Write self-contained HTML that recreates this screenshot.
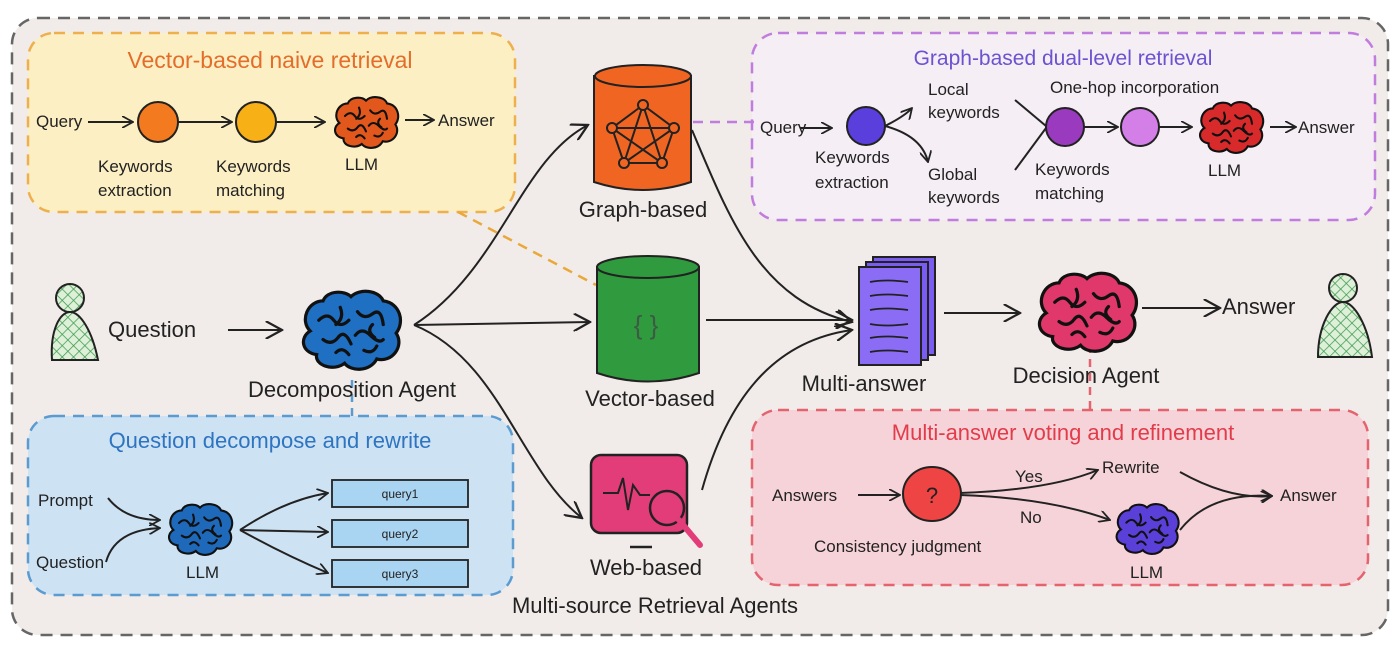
<!DOCTYPE html>
<html><head><meta charset="utf-8"><style>
html,body{margin:0;padding:0;background:#fff}
svg{display:block}
text{font-family:"Liberation Sans",sans-serif;fill:#222}
</style></head><body>
<svg width="1398" height="645" viewBox="0 0 1398 645" xmlns="http://www.w3.org/2000/svg">
<defs>
<marker id="ah" viewBox="0 0 12 12" refX="11" refY="6" markerWidth="12" markerHeight="12" markerUnits="userSpaceOnUse" orient="auto">
<path d="M0,0 L11,6 L0,12" fill="none" stroke="#222" stroke-width="1.8"/></marker>
<marker id="ahb" viewBox="0 0 12 12" refX="11" refY="6" markerWidth="18" markerHeight="18" markerUnits="userSpaceOnUse" orient="auto">
<path d="M0,0 L11,6 L0,12" fill="none" stroke="#222" stroke-width="1.5"/></marker>
<symbol id="brain" viewBox="0 0 100 80">
<path d="M12,40 C2,30 10,12 24,12 C28,2 44,2 50,8 C58,0 76,2 80,12 C96,14 100,32 92,42 C100,54 88,70 74,66 C68,78 50,78 44,70 C34,78 16,72 18,62 C4,60 2,46 12,40Z" stroke="#111" stroke-width="3"/>
<path d="M20,30 q8,-8 14,0 t14,0 M56,22 q6,8 14,2 t10,10 M24,48 q8,6 14,-2 t12,6 M54,44 q6,-8 14,0 t12,4 M36,60 q6,-6 12,2 M62,58 q8,4 12,-4 M40,18 q4,10 -4,16 M70,34 q-6,6 2,12" fill="none" stroke="#111" stroke-width="3" stroke-linecap="round"/>
</symbol>
<pattern id="hatch" width="8" height="8" patternUnits="userSpaceOnUse" patternTransform="rotate(45)">
<rect width="8" height="8" fill="#dff0d8"/><path d="M0,0V8M0,0H8" stroke="#3c9a50" stroke-width="1.5"/></pattern>
</defs>
<rect width="1398" height="645" fill="#fff"/>
<rect x="12" y="18" width="1376" height="617" rx="26" fill="#f1ece9" stroke="#666" stroke-width="2.5" stroke-dasharray="12 8"/>

<!-- yellow box -->
<rect x="28" y="33" width="487" height="179" rx="26" fill="#fcefc3" stroke="#eeb04c" stroke-width="2.5" stroke-dasharray="11 8"/>
<text x="270" y="68" text-anchor="middle" font-size="23" style="fill:#e36d2a">Vector-based naive retrieval</text>
<text x="36" y="127" font-size="17">Query</text>
<path d="M88,122 L133,122" stroke="#222" stroke-width="2" marker-end="url(#ah)"/>
<circle cx="158" cy="122" r="20" fill="#f47a20" stroke="#222" stroke-width="2"/>
<path d="M178,122 L232,122" stroke="#222" stroke-width="2" marker-end="url(#ah)"/>
<circle cx="256" cy="122" r="20" fill="#f7b015" stroke="#222" stroke-width="2"/>
<path d="M276,122 L325,122" stroke="#222" stroke-width="2" marker-end="url(#ah)"/>
<use href="#brain" x="330" y="95" width="72" height="56" fill="#e2571c"/>
<path d="M405,120 L434,120" stroke="#222" stroke-width="2" marker-end="url(#ah)"/>
<text x="438" y="126" font-size="17">Answer</text>
<text x="98" y="172" font-size="17">Keywords</text><text x="98" y="196" font-size="17">extraction</text>
<text x="216" y="172" font-size="17">Keywords</text><text x="216" y="196" font-size="17">matching</text>
<text x="345" y="170" font-size="17">LLM</text>

<!-- purple box -->
<rect x="752" y="33" width="623" height="187" rx="26" fill="#f5eef5" stroke="#c07ddd" stroke-width="2.5" stroke-dasharray="11 8"/>
<text x="1063" y="65" text-anchor="middle" font-size="21" style="fill:#6b52d0">Graph-based dual-level retrieval</text>
<text x="760" y="133" font-size="17">Query</text>
<path d="M800,128 L832,128" stroke="#222" stroke-width="2" marker-end="url(#ah)"/>
<circle cx="866" cy="126" r="19" fill="#5a3fdc" stroke="#222" stroke-width="2"/>
<path d="M885,126 Q905,116 912,108" fill="none" stroke="#222" stroke-width="2" marker-end="url(#ah)"/>
<path d="M885,126 Q922,136 928,162" fill="none" stroke="#222" stroke-width="2" marker-end="url(#ah)"/>
<text x="815" y="163" font-size="17">Keywords</text><text x="815" y="188" font-size="17">extraction</text>
<text x="928" y="95" font-size="17">Local</text><text x="928" y="118" font-size="17">keywords</text>
<text x="928" y="180" font-size="17">Global</text><text x="928" y="203" font-size="17">keywords</text>
<path d="M1015,100 L1046,126" stroke="#222" stroke-width="2"/>
<path d="M1015,170 L1046,128" stroke="#222" stroke-width="2"/>
<circle cx="1065" cy="127" r="19" fill="#9a3bbf" stroke="#222" stroke-width="2"/>
<path d="M1084,127 L1118,127" stroke="#222" stroke-width="2" marker-end="url(#ah)"/>
<circle cx="1140" cy="127" r="19" fill="#d47fe8" stroke="#222" stroke-width="2"/>
<path d="M1159,127 L1192,127" stroke="#222" stroke-width="2" marker-end="url(#ah)"/>
<use href="#brain" x="1194" y="100" width="74" height="56" fill="#d82a2a"/>
<path d="M1270,127 L1296,127" stroke="#222" stroke-width="2" marker-end="url(#ah)"/>
<text x="1298" y="133" font-size="17">Answer</text>
<text x="1050" y="93" font-size="17">One-hop incorporation</text>
<text x="1035" y="175" font-size="17">Keywords</text><text x="1035" y="199" font-size="17">matching</text>
<text x="1208" y="176" font-size="17">LLM</text>

<!-- blue box -->
<rect x="28" y="416" width="485" height="179" rx="26" fill="#cde3f4" stroke="#5b9bd0" stroke-width="2.5" stroke-dasharray="11 8"/>
<text x="270" y="448" text-anchor="middle" font-size="22" style="fill:#2e74c0">Question decompose and rewrite</text>
<text x="38" y="506" font-size="17">Prompt</text>
<text x="36" y="568" font-size="17">Question</text>
<path d="M108,498 Q125,520 160,520" fill="none" stroke="#222" stroke-width="2" marker-end="url(#ah)"/>
<path d="M106,562 Q115,530 160,528" fill="none" stroke="#222" stroke-width="2" marker-end="url(#ah)"/>
<use href="#brain" x="162" y="502" width="76" height="56" fill="#1f69bb"/>
<text x="186" y="578" font-size="17">LLM</text>
<path d="M240,530 Q285,500 328,493" fill="none" stroke="#222" stroke-width="2" marker-end="url(#ah)"/>
<path d="M240,530 L328,532" fill="none" stroke="#222" stroke-width="2" marker-end="url(#ah)"/>
<path d="M240,530 Q285,555 328,573" fill="none" stroke="#222" stroke-width="2" marker-end="url(#ah)"/>
<rect x="332" y="480" width="136" height="27" fill="#a9d4f2" stroke="#222" stroke-width="1.8"/>
<rect x="332" y="520" width="136" height="27" fill="#a9d4f2" stroke="#222" stroke-width="1.8"/>
<rect x="332" y="560" width="136" height="27" fill="#a9d4f2" stroke="#222" stroke-width="1.8"/>
<text x="400" y="498" text-anchor="middle" font-size="12">query1</text>
<text x="400" y="538" text-anchor="middle" font-size="12">query2</text>
<text x="400" y="578" text-anchor="middle" font-size="12">query3</text>

<!-- pink box -->
<rect x="752" y="410" width="616" height="175" rx="26" fill="#f6d3d9" stroke="#e4636f" stroke-width="2.5" stroke-dasharray="11 8"/>
<text x="1063" y="440" text-anchor="middle" font-size="22" style="fill:#e23c4a">Multi-answer voting and refinement</text>
<text x="772" y="501" font-size="17">Answers</text>
<path d="M858,495 L900,495" stroke="#222" stroke-width="2" marker-end="url(#ah)"/>
<ellipse cx="932" cy="494" rx="29" ry="27" fill="#ef4444" stroke="#222" stroke-width="2"/>
<text x="932" y="503" text-anchor="middle" font-size="22">?</text>
<path d="M960,493 Q1050,490 1098,470" fill="none" stroke="#222" stroke-width="2" marker-end="url(#ah)"/>
<path d="M960,495 Q1050,498 1110,520" fill="none" stroke="#222" stroke-width="2" marker-end="url(#ah)"/>
<text x="1015" y="482" font-size="17">Yes</text>
<text x="1020" y="523" font-size="17">No</text>
<text x="1102" y="473" font-size="17">Rewrite</text>
<text x="814" y="552" font-size="17">Consistency judgment</text>
<use href="#brain" x="1112" y="502" width="70" height="55" fill="#5a40d8"/>
<text x="1130" y="578" font-size="17">LLM</text>
<path d="M1180,472 Q1230,500 1272,496" fill="none" stroke="#222" stroke-width="2" marker-end="url(#ah)"/>
<path d="M1180,530 Q1210,492 1272,496" fill="none" stroke="#222" stroke-width="2" marker-end="url(#ah)"/>
<text x="1280" y="501" font-size="17">Answer</text>

<!-- dashed connectors -->
<path d="M458,212 L596,285" stroke="#eaa83a" stroke-width="2.5" stroke-dasharray="10 7"/>
<path d="M693,122 L760,122" stroke="#c07ddd" stroke-width="2.5" stroke-dasharray="10 7"/>
<path d="M352,380 L352,416" stroke="#5b9bd0" stroke-width="2.5" stroke-dasharray="8 6"/>
<path d="M1090,345 L1090,410" stroke="#e4636f" stroke-width="2.5" stroke-dasharray="8 6"/>

<!-- main flow -->
<circle cx="70" cy="298" r="14" fill="url(#hatch)" stroke="#222" stroke-width="2"/>
<path d="M52,360 C50,330 60,312 70,312 C80,312 92,330 98,360 Z" fill="url(#hatch)" stroke="#222" stroke-width="2"/>
<text x="108" y="337" font-size="22">Question</text>
<path d="M228,330 L282,330" stroke="#222" stroke-width="2" marker-end="url(#ahb)"/>
<use href="#brain" x="292" y="288" width="118" height="86" fill="#1f6fc2"/>
<text x="352" y="397" text-anchor="middle" font-size="22">Decomposition Agent</text>
<path d="M414,325 C500,270 520,160 588,125" fill="none" stroke="#222" stroke-width="2" marker-end="url(#ahb)"/>
<path d="M414,325 L590,322" fill="none" stroke="#222" stroke-width="2" marker-end="url(#ahb)"/>
<path d="M414,325 C500,360 520,470 582,518" fill="none" stroke="#222" stroke-width="2" marker-end="url(#ahb)"/>

<!-- graph cylinder -->
<path d="M594,76 L594,182 Q643,198 691,182 L691,76 Z" fill="#f16522" stroke="#222" stroke-width="2"/>
<ellipse cx="643" cy="76" rx="48" ry="11" fill="#f16522" stroke="#222" stroke-width="2"/>
<g stroke="#222" stroke-width="2" fill="none">
<path d="M643,105 L612,128 L624,163 L662,163 L674,128 Z M643,105 L624,163 L674,128 L612,128 L662,163 Z"/>
</g>
<g fill="#f16522" stroke="#222" stroke-width="2"><circle cx="643" cy="105" r="5"/><circle cx="612" cy="128" r="5"/><circle cx="674" cy="128" r="5"/><circle cx="624" cy="163" r="5"/><circle cx="662" cy="163" r="5"/></g>
<text x="643" y="217" text-anchor="middle" font-size="22">Graph-based</text>

<!-- vector cylinder -->
<path d="M597,267 L597,373 Q648,390 699,373 L699,267 Z" fill="#2f9a3e" stroke="#222" stroke-width="2"/>
<ellipse cx="648" cy="267" rx="51" ry="11" fill="#2f9a3e" stroke="#222" stroke-width="2"/>
<text x="646" y="334" text-anchor="middle" font-size="26" style="fill:#3c5a44">{ }</text>
<text x="650" y="406" text-anchor="middle" font-size="22">Vector-based</text>

<!-- web -->
<rect x="591" y="455" width="96" height="78" rx="10" fill="#e23d78" stroke="#222" stroke-width="2.5"/>
<path d="M603,493 L618,493 L623,478 L628,510 L633,485 L640,495 L650,495" fill="none" stroke="#222" stroke-width="2"/>
<path d="M630,547 L652,547" stroke="#222" stroke-width="2.5"/>
<circle cx="667" cy="508" r="17" fill="#e23d78" stroke="#222" stroke-width="2.5"/>
<path d="M679,520 L700,545" stroke="#e23d78" stroke-width="6" stroke-linecap="round"/>
<text x="646" y="575" text-anchor="middle" font-size="22">Web-based</text>

<path d="M692,130 C730,220 760,300 852,322" fill="none" stroke="#222" stroke-width="2" marker-end="url(#ahb)"/>
<path d="M706,320 L852,320" fill="none" stroke="#222" stroke-width="2" marker-end="url(#ahb)"/>
<path d="M702,490 C730,390 780,340 852,330" fill="none" stroke="#222" stroke-width="2" marker-end="url(#ahb)"/>

<!-- multi-answer doc -->
<rect x="873" y="257" width="62" height="98" fill="#7b5cf0" stroke="#222" stroke-width="2"/>
<rect x="866" y="262" width="62" height="98" fill="#7b5cf0" stroke="#222" stroke-width="2"/>
<rect x="859" y="267" width="62" height="98" fill="#8b6cf5" stroke="#222" stroke-width="2"/>
<path d="M870,282 q15,-3 38,0 M870,296 q15,-3 38,0 M870,310 q15,-3 38,0 M870,324 q15,3 38,0 M870,338 q15,-3 38,0 M870,352 q15,-3 38,0" fill="none" stroke="#222" stroke-width="1.8"/>
<text x="864" y="391" text-anchor="middle" font-size="22">Multi-answer</text>
<path d="M944,313 L1020,313" stroke="#222" stroke-width="2" marker-end="url(#ahb)"/>
<use href="#brain" x="1032" y="270" width="110" height="86" fill="#e0386a"/>
<text x="1086" y="383" text-anchor="middle" font-size="22">Decision Agent</text>
<path d="M1142,308 L1220,308" stroke="#222" stroke-width="2" marker-end="url(#ahb)"/>
<text x="1222" y="314" font-size="22">Answer</text>
<circle cx="1343" cy="288" r="14" fill="url(#hatch)" stroke="#222" stroke-width="2"/>
<path d="M1318,357 C1318,325 1332,302 1343,302 C1354,302 1368,325 1372,357 Z" fill="url(#hatch)" stroke="#222" stroke-width="2"/>

<text x="655" y="613" text-anchor="middle" font-size="22">Multi-source Retrieval Agents</text>
</svg>
</body></html>
